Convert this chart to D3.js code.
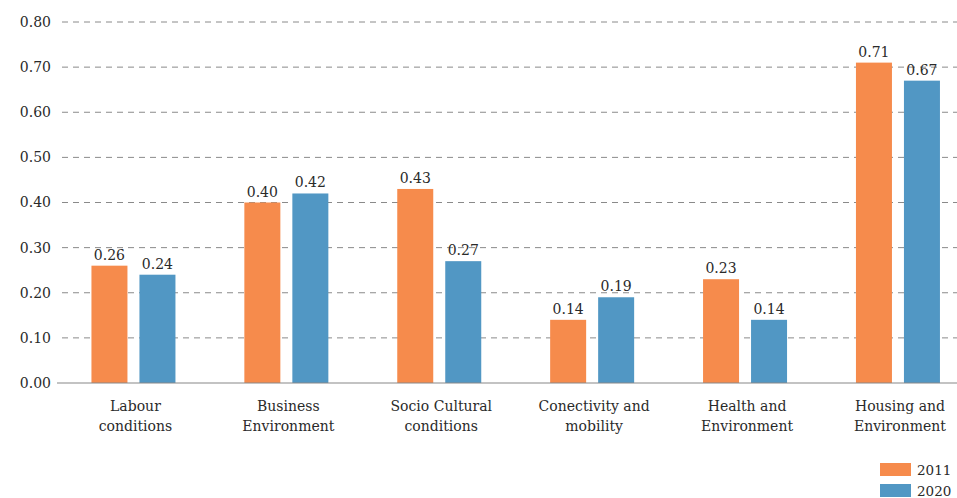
<!DOCTYPE html>
<html><head><meta charset="utf-8">
<script src="https://cdn.jsdelivr.net/npm/d3@7"></script>
<style>body{margin:0;background:#fff;overflow:hidden}svg{display:block}</style>
</head><body>
<script>
const categories = [["Labour","conditions"],["Business","Environment"],["Socio Cultural","conditions"],["Conectivity and","mobility"],["Health and","Environment"],["Housing and","Environment"]];
const series = ["2011","2020"];
const values2011 = [0.26,0.40,0.43,0.14,0.23,0.71];
const values2020 = [0.24,0.42,0.27,0.19,0.14,0.67];
const yTicks = [0,0.1,0.2,0.3,0.4,0.5,0.6,0.7,0.8];
const colors = ["#f68b4c","#5197c4"];

const W=957,H=498, font="'DejaVu Serif', serif";
const svg=d3.select("body").append("svg").attr("width",W).attr("height",H);
const keys=categories.map(c=>c.join(" "));
const x=d3.scaleBand().domain(keys).range([57,974.4]).padding(0);
const xs=d3.scaleBand().domain(series).range([0,84]).paddingInner(0.25);
const y=d3.scaleLinear().domain([0,0.8]).range([383,22]);

const yAxis=d3.axisLeft(y).tickValues(yTicks).tickFormat(d3.format(".2f")).tickSize(0).tickPadding(0);
const ga=svg.append("g").attr("transform","translate(51,0)").call(yAxis);
ga.select(".domain").remove();
ga.selectAll("text").attr("font-family",font).attr("font-size",14).attr("fill","#2a2a2a");
svg.append("g").selectAll("line").data(yTicks.filter(d=>d>0)).join("line")
 .attr("x1",62).attr("x2",W).attr("y1",d=>y(d)).attr("y2",d=>y(d))
 .attr("stroke","#8a8a8a").attr("stroke-width",1).attr("stroke-dasharray","6,5");

const data=keys.map((k,i)=>({k,vals:[values2011[i],values2020[i]]}));
const g=svg.append("g").selectAll("g").data(data).join("g")
 .attr("transform",d=>`translate(${x(d.k)+x.bandwidth()/2-42},0)`);
g.selectAll("rect").data(d=>d.vals.map((v,j)=>({s:series[j],v,j}))).join("rect")
 .attr("x",d=>xs(d.s)).attr("width",xs.bandwidth())
 .attr("y",d=>y(d.v)).attr("height",d=>y(0)-y(d.v)).attr("fill",d=>colors[d.j]);
g.selectAll("text").data(d=>d.vals.map((v,j)=>({s:series[j],v,j}))).join("text")
 .attr("x",d=>xs(d.s)+xs.bandwidth()/2).attr("y",d=>y(d.v)-6)
 .attr("text-anchor","middle").attr("font-family",font).attr("font-size",14).attr("fill","#2a2a2a")
 .text(d=>d3.format(".2f")(d.v));

svg.append("line").attr("x1",57).attr("x2",W).attr("y1",y(0)).attr("y2",y(0)).attr("stroke","#888").attr("stroke-width",1.2);

const cl=svg.append("g").selectAll("text").data(categories).join("text")
 .attr("text-anchor","middle").attr("font-family",font).attr("font-size",14).attr("fill","#2a2a2a")
 .attr("transform",(d,i)=>`translate(${x(keys[i])+x.bandwidth()/2+2},0)`);
cl.selectAll("tspan").data(d=>d).join("tspan").attr("x",0).attr("y",(d,i)=>411+i*19.5).text(d=>d);

const lg=svg.append("g").selectAll("g").data(series).join("g").attr("transform",(d,i)=>`translate(880,${463+i*21})`);
lg.append("rect").attr("width",31).attr("height",13).attr("fill",(d,i)=>colors[i]);
lg.append("text").attr("x",37).attr("y",12).attr("font-family",font).attr("font-size",13.5).attr("fill","#2a2a2a").text(d=>d);
</script>
</body></html>
